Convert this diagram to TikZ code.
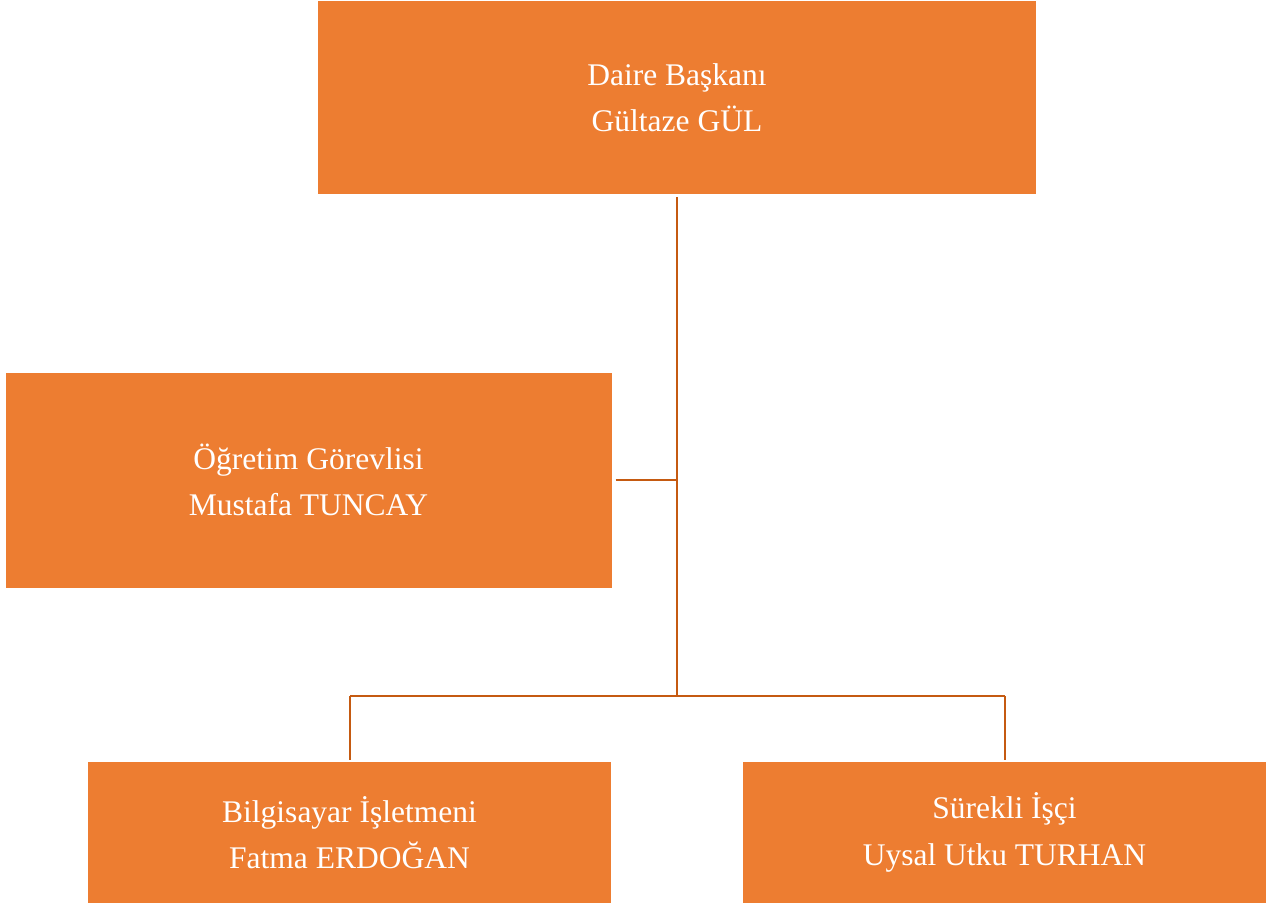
\documentclass[tikz,border=0pt]{standalone}
\usepackage{fontspec}
\setmainfont{Liberation Serif}
\definecolor{boxfill}{HTML}{ED7D31}
\definecolor{linecol}{HTML}{C55A11}
\begin{document}
\begin{tikzpicture}[x=1pt,y=-1pt,
  orgbox/.style={rectangle, fill=boxfill, draw=none, text=white, align=center,
    inner sep=0pt, font=\fontsize{31.5}{46.5}\selectfont},
  conn/.style={draw=linecol, line width=2.6pt}]
\useasboundingbox (0,0) rectangle (1266,905);
\node[orgbox, minimum width=718pt, minimum height=193pt] (top) at (677,97.5) {Daire Başkanı\\Gültaze GÜL};
\node[orgbox, minimum width=606pt, minimum height=215pt] (mid) at (308.5,480) {Öğretim Görevlisi\\Mustafa TUNCAY};
\node[orgbox, minimum width=523pt, minimum height=141pt] (bl) at (349.5,832.5) {Bilgisayar İşletmeni\\Fatma ERDOĞAN};
\node[orgbox, minimum width=523pt, minimum height=141pt] (br) at (1004.5,832.5) {Sürekli İşçi\\Uysal Utku TURHAN};
\coordinate (jmid) at (677,480);
\coordinate (jbot) at (677,696);
\coordinate (jl) at (350,696);
\coordinate (jr) at (1005,696);
\draw[conn, shorten <=3pt] (top.south) -- (jbot);
\draw[conn, shorten <=4pt] (mid.east |- jmid) -- (jmid);
\draw[conn] (jl) -- (jr);
\draw[conn, shorten >=2pt] (jl) -- (jl |- bl.north);
\draw[conn, shorten >=2pt] (jr) -- (jr |- br.north);
\end{tikzpicture}
\end{document}
